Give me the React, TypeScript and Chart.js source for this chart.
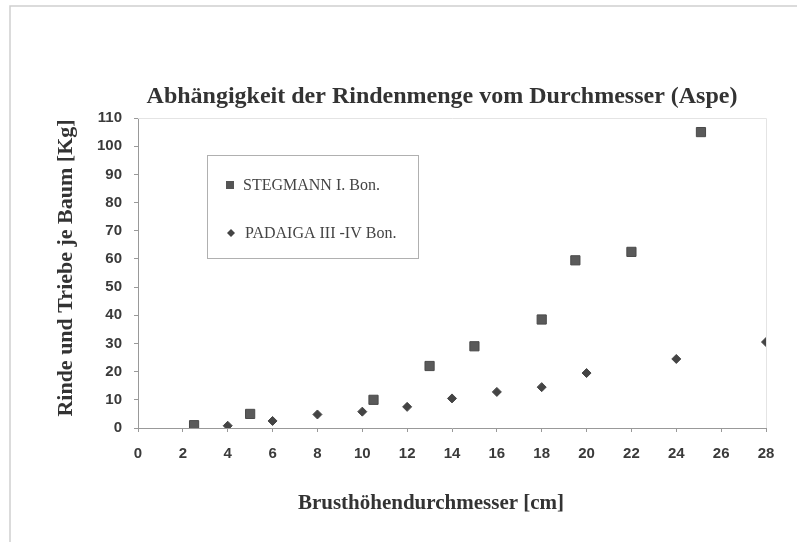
import React, { useEffect, useRef } from "react";
import { Chart, registerables } from "chart.js";

Chart.register(...registerables);

const titleText = "Abhängigkeit der Rindenmenge vom Durchmesser (Aspe)";
const xTitle = "Brusthöhendurchmesser [cm]";
const yTitle = "Rinde und Triebe je Baum [Kg]";
const seriesNames = ["STEGMANN I. Bon.", "PADAIGA III -IV Bon."];

const stegmannX = [2.5, 5, 10.5, 13, 15, 18, 19.5, 22, 25.1];
const stegmannY = [1, 5, 10, 22, 29, 38.5, 59.5, 62.5, 105];
const padaigaX = [4, 6, 8, 10, 12, 14, 16, 18, 20, 24, 28];
const padaigaY = [0.8, 2.5, 4.8, 5.8, 7.5, 10.5, 12.8, 14.5, 19.5, 24.5, 30.5];

const xMin = 0, xMax = 28, xStep = 2;
const yMin = 0, yMax = 110, yStep = 10;

const W = 797, H = 542;

const decor = {
  id: "decor",
  afterDraw(chart: any) {
    const ctx = chart.ctx as CanvasRenderingContext2D;
    const a = chart.chartArea;
    ctx.save();
    // outer frame
    ctx.strokeStyle = "#cfcfcf";
    ctx.lineWidth = 1.5;
    ctx.beginPath();
    ctx.moveTo(10, H);
    ctx.lineTo(10, 6);
    ctx.lineTo(W, 6);
    ctx.stroke();
    // plot frame top/right
    ctx.strokeStyle = "#e4e4e4";
    ctx.lineWidth = 1;
    ctx.beginPath();
    ctx.moveTo(a.left, a.top + 0.5);
    ctx.lineTo(a.right + 0.5, a.top + 0.5);
    ctx.lineTo(a.right + 0.5, a.bottom);
    ctx.stroke();
    // title
    ctx.fillStyle = "#333";
    ctx.textAlign = "center";
    ctx.textBaseline = "middle";
    ctx.font = 'bold 24px "Liberation Serif"';
    ctx.fillText(titleText, 442, 97);
    // x title
    ctx.font = 'bold 21px "Liberation Serif"';
    ctx.fillText(xTitle, 431, 504);
    // y title
    ctx.save();
    ctx.translate(66, 268);
    ctx.rotate(-Math.PI / 2);
    ctx.font = 'bold 22px "Liberation Serif"';
    ctx.fillText(yTitle, 0, 0);
    ctx.restore();
    // legend
    ctx.strokeStyle = "#b0b0b0";
    ctx.lineWidth = 1;
    ctx.strokeRect(207.5, 155.5, 211, 103);
    ctx.fillStyle = "#555";
    ctx.fillRect(226, 181, 8, 8);
    ctx.beginPath();
    ctx.moveTo(231, 229);
    ctx.lineTo(235, 233);
    ctx.lineTo(231, 237);
    ctx.lineTo(227, 233);
    ctx.closePath();
    ctx.fillStyle = "#444";
    ctx.fill();
    ctx.fillStyle = "#444";
    ctx.textAlign = "left";
    ctx.font = '16px "Liberation Serif"';
    ctx.fillText(seriesNames[0], 243, 186);
    ctx.fillText(seriesNames[1], 245, 234);
    ctx.restore();
  },
};

export default function App() {
  const ref = useRef<HTMLCanvasElement>(null);
  useEffect(() => {
    if (!ref.current) return;
    const chart = new Chart(ref.current, {
      type: "scatter",
      data: {
        datasets: [
          {
            label: seriesNames[0],
            data: stegmannX.map((x, i) => ({ x, y: stegmannY[i] })),
            pointStyle: "rect",
            pointRadius: 6.5,
            backgroundColor: "#5a5a5a",
            borderColor: "#4a4a4a",
            borderWidth: 1,
          },
          {
            label: seriesNames[1],
            data: padaigaX.map((x, i) => ({ x, y: padaigaY[i] })),
            pointStyle: "rectRot",
            pointRadius: 4.5,
            backgroundColor: "#444",
            borderColor: "#444",
            borderWidth: 1,
          },
        ],
      },
      options: {
        animation: false,
        responsive: false,
        maintainAspectRatio: false,
        layout: { padding: { left: 0, top: 118, right: 31, bottom: 0 } },
        plugins: { legend: { display: false }, tooltip: { enabled: false }, title: { display: false } },
        scales: {
          x: {
            type: "linear",
            min: xMin,
            max: xMax,
            ticks: { stepSize: xStep, padding: 13, color: "#3a3a3a", font: { family: "Liberation Sans", size: 15, weight: "bold" } },
            grid: { drawOnChartArea: false, drawTicks: true, tickLength: 4, color: "#999" },
            border: { display: true, color: "#999", width: 1 },
            afterFit: (s: any) => { s.height = H - 428; },
          },
          y: {
            type: "linear",
            min: yMin,
            max: yMax,
            ticks: { stepSize: yStep, padding: 12, color: "#3a3a3a", font: { family: "Liberation Sans", size: 15, weight: "bold" } },
            grid: { drawOnChartArea: false, drawTicks: true, tickLength: 4, color: "#999" },
            border: { display: true, color: "#999", width: 1 },
            afterFit: (s: any) => { s.width = 138; },
          },
        },
      },
      plugins: [decor],
    });
    return () => chart.destroy();
  }, []);
  return (
    <div style={{ position: "fixed", left: 0, top: 0, width: W, height: H, background: "#fff" }}>
      <canvas ref={ref} width={W} height={H} style={{ width: W, height: H, display: "block" }} />
    </div>
  );
}
